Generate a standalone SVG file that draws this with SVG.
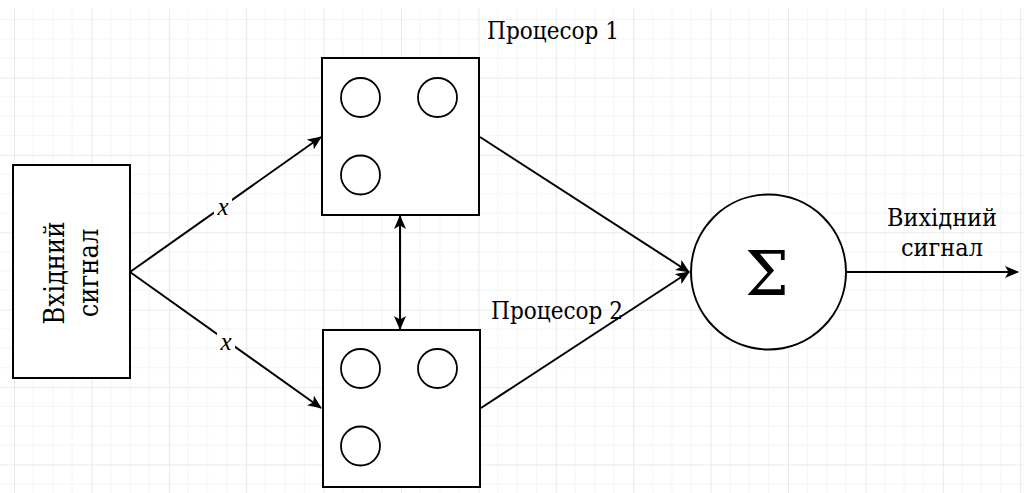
<svg xmlns="http://www.w3.org/2000/svg" width="1024" height="493" viewBox="0 0 1024 493">
  <defs>
    <pattern id="grid" patternUnits="userSpaceOnUse" x="14" y="0.1" width="77.4" height="77.4">
      <path d="M19.35 0V77.4M38.7 0V77.4M58.05 0V77.4M0 19.35H77.4M0 38.7H77.4M0 58.05H77.4" stroke="#f4f4f4" stroke-width="1" fill="none"/>
      <path d="M0.5 0V77.4M0 0.5H77.4" stroke="#e9e9e9" stroke-width="1" fill="none"/>
    </pattern>
    <marker id="arrow" markerUnits="userSpaceOnUse" markerWidth="14" markerHeight="12" viewBox="0 0 14 12" refX="13" refY="6" orient="auto-start-reverse">
      <path d="M0 0 L14 6 L0 12 L3.5 6 Z" fill="#000"/>
    </marker>
  </defs>
  <style>
    .shape { fill: #fff; stroke: #000; stroke-width: 2; }
    .dot { fill: none; stroke: #000; stroke-width: 1.8; }
    .edge { fill: none; stroke: #000; stroke-width: 2; }
    .label { font-family: "DejaVu Serif", "Liberation Serif", serif; font-stretch: condensed; font-size: 25px; fill: #000; }
    .label.big { font-size: 27px; }
    .label.title { font-size: 24px; }
    .var { font-family: "Liberation Serif", "DejaVu Serif", serif; font-size: 25px; font-style: italic; fill: #000; }
  </style>

  <rect x="0" y="0" width="1024" height="493" fill="#fff"/>
  <rect x="0" y="9" width="1024" height="484" fill="url(#grid)"/>

  <!-- connectors -->
  <g id="connectors">
    <line class="edge" x1="130" y1="272" x2="321" y2="137" marker-end="url(#arrow)"/>
    <line class="edge" x1="130" y1="272" x2="321" y2="408" marker-end="url(#arrow)"/>
    <line class="edge" x1="400" y1="216" x2="400" y2="329" marker-start="url(#arrow)" marker-end="url(#arrow)"/>
    <line class="edge" x1="480" y1="137" x2="689" y2="272" marker-end="url(#arrow)"/>
    <line class="edge" x1="481" y1="408" x2="689" y2="272" marker-end="url(#arrow)"/>
    <line class="edge" x1="847" y1="272" x2="1018" y2="272" marker-end="url(#arrow)"/>
    <!-- edge labels -->
    <rect x="214" y="198" width="18" height="20" fill="#fff"/>
    <text class="var" x="223" y="215" text-anchor="middle">x</text>
    <rect x="217" y="333" width="18" height="20" fill="#fff"/>
    <text class="var" x="226" y="350" text-anchor="middle">x</text>
  </g>

  <!-- input signal -->
  <g id="input">
    <rect class="shape" x="13" y="165" width="117" height="213"/>
    <g transform="translate(72 273) rotate(-90)">
      <text class="label big" x="0" y="-8" text-anchor="middle">Вхідний</text>
      <text class="label big" x="0" y="26" text-anchor="middle">сигнал</text>
    </g>
  </g>

  <!-- processor 1 -->
  <g id="processor1">
    <rect class="shape" x="322" y="58" width="157" height="157"/>
    <circle class="dot" cx="360.5" cy="97.5" r="19.5"/>
    <circle class="dot" cx="437.5" cy="97.5" r="19.5"/>
    <circle class="dot" cx="360.5" cy="175" r="19.5"/>
    <text class="label title" x="553" y="39" text-anchor="middle">Процесор 1</text>
  </g>

  <!-- processor 2 -->
  <g id="processor2">
    <rect class="shape" x="323" y="330" width="157" height="157"/>
    <circle class="dot" cx="360.5" cy="368.5" r="19.5"/>
    <circle class="dot" cx="437.5" cy="368.5" r="19.5"/>
    <circle class="dot" cx="360.5" cy="446" r="19.5"/>
    <text class="label title" x="557" y="319" text-anchor="middle">Процесор 2</text>
  </g>

  <!-- summator -->
  <g id="summator">
    <circle class="shape" cx="768.5" cy="272" r="77.5"/>
    <text x="767" y="295" text-anchor="middle" font-family="DejaVu Serif, serif" font-size="62" fill="#000">Σ</text>
  </g>

  <!-- output signal -->
  <g id="output">
    <text class="label" x="942" y="226" text-anchor="middle">Вихідний</text>
    <text class="label" x="942" y="256" text-anchor="middle">сигнал</text>
  </g>
</svg>
